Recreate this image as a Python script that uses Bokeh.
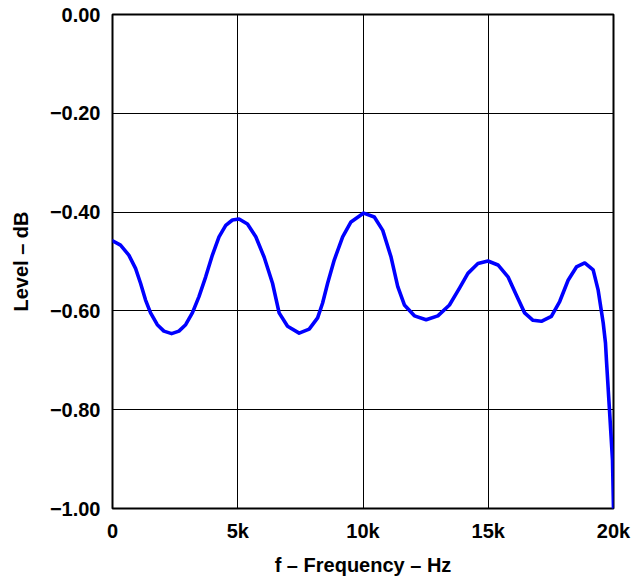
from bokeh.plotting import figure
from bokeh.models import FixedTicker, Range1d
from bokeh.embed import file_html
from bokeh.resources import INLINE

# Frequency (Hz) and level (dB)
freq_hz = [0, 320, 652, 920, 1120, 1320, 1520, 1788, 2052, 2360, 2652, 2920,
           3188, 3452, 3720, 3988, 4252, 4520, 4788, 5052, 5388, 5720, 6052,
           6388, 6652, 6988, 7452, 7852, 8188, 8388, 8588, 8852, 9188, 9520,
           10028, 10452, 10788, 11120, 11388, 11652, 12052, 12520, 12988, 13452,
           13852, 14188, 14588, 14988, 15388, 15788, 16120, 16452, 16788, 17120,
           17520, 17852, 18188, 18520, 18852, 19188, 19388, 19588, 19680, 19720,
           19840, 19960, 20000]
level_db = [-0.458, -0.467, -0.487, -0.514, -0.544, -0.578, -0.604, -0.628,
            -0.641, -0.646, -0.641, -0.628, -0.604, -0.571, -0.531, -0.487,
            -0.450, -0.427, -0.416, -0.414, -0.424, -0.450, -0.491, -0.544,
            -0.604, -0.631, -0.645, -0.637, -0.614, -0.584, -0.544, -0.497,
            -0.450, -0.420, -0.402, -0.410, -0.437, -0.491, -0.551, -0.588,
            -0.610, -0.618, -0.610, -0.588, -0.554, -0.524, -0.504, -0.499,
            -0.507, -0.531, -0.568, -0.604, -0.619, -0.621, -0.611, -0.581,
            -0.538, -0.511, -0.503, -0.517, -0.558, -0.624, -0.665, -0.701,
            -0.801, -0.902, -1.000]

x_ticks = [0, 5000, 10000, 15000, 20000]
x_tick_labels = ["0", "5k", "10k", "15k", "20k"]
y_ticks = [0.0, -0.2, -0.4, -0.6, -0.8, -1.0]
y_tick_labels = ["0.00", "\u22120.20", "\u22120.40", "\u22120.60", "\u22120.80", "\u22121.00"]

FONT = "Liberation Sans"

p = figure(width=636, height=578, output_backend="svg", toolbar_location=None,
           x_range=Range1d(0, 20000), y_range=Range1d(-1.0, 0.0),
           min_border_left=112, min_border_right=23, min_border_top=14,
           min_border_bottom=64)

p.line(freq_hz, level_db, line_color="#0000FF", line_width=3.6,
       line_join="round", line_cap="round")

p.outline_line_color = "black"
p.outline_line_width = 2

p.xaxis.ticker = FixedTicker(ticks=x_ticks)
p.yaxis.ticker = FixedTicker(ticks=y_ticks)
p.xaxis.major_label_overrides = {t: l for t, l in zip(x_ticks, x_tick_labels)}
p.yaxis.major_label_overrides = {t: l for t, l in zip(y_ticks, y_tick_labels)}

for ax in (p.xaxis, p.yaxis):
    ax.axis_line_color = None
    ax.major_tick_line_color = None
    ax.minor_tick_line_color = None
    ax.major_label_text_font = FONT
    ax.major_label_text_font_style = "bold"
    ax.major_label_text_font_size = "20px"
    ax.major_label_text_color = "black"
    ax.axis_label_text_font = FONT
    ax.axis_label_text_font_style = "bold"
    ax.axis_label_text_font_size = "20px"
    ax.axis_label_text_color = "black"

p.xaxis.major_label_standoff = 5
p.yaxis.major_label_standoff = 6
p.xaxis.axis_label = "f \u2013 Frequency \u2013 Hz"
p.yaxis.axis_label = "Level \u2013 dB"
p.xaxis.axis_label_standoff = 9
p.yaxis.axis_label_standoff = 15

p.xgrid.grid_line_color = "black"
p.ygrid.grid_line_color = "black"
p.xgrid.grid_line_width = 1
p.ygrid.grid_line_width = 1
p.xgrid.grid_line_alpha = 1
p.ygrid.grid_line_alpha = 1

open("out.html", "w").write(file_html(p, INLINE))
